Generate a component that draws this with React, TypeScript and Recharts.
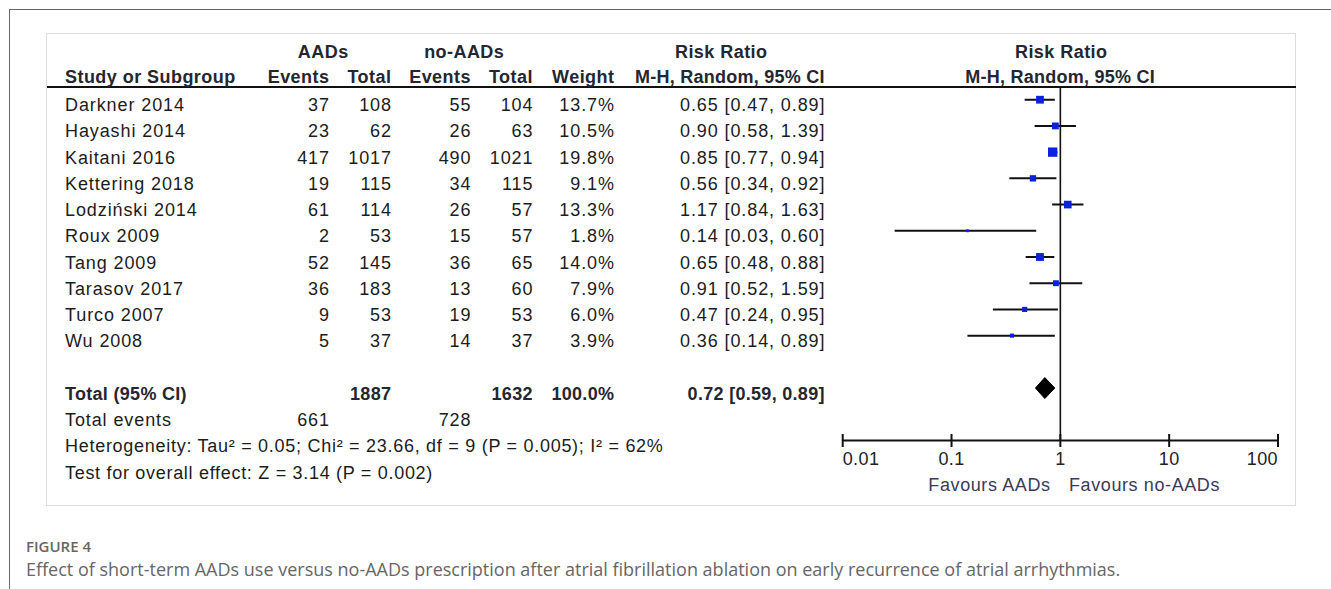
import React from 'react';
import { ScatterChart, Scatter, XAxis, YAxis, ReferenceLine } from 'recharts';

const studies = ['Darkner 2014', 'Hayashi 2014', 'Kaitani 2016', 'Kettering 2018', 'Lodziński 2014', 'Roux 2009', 'Tang 2009', 'Tarasov 2017', 'Turco 2007', 'Wu 2008'];
const aadEvents = [37, 23, 417, 19, 61, 2, 52, 36, 9, 5];
const aadTotal = [108, 62, 1017, 115, 114, 53, 145, 183, 53, 37];
const noEvents = [55, 26, 490, 34, 26, 15, 36, 13, 19, 14];
const noTotal = [104, 63, 1021, 115, 57, 57, 65, 60, 53, 37];
const weights = [13.7, 10.5, 19.8, 9.1, 13.3, 1.8, 14.0, 7.9, 6.0, 3.9];
const riskRatio = [0.65, 0.9, 0.85, 0.56, 1.17, 0.14, 0.65, 0.91, 0.47, 0.36];
const ciLow = [0.47, 0.58, 0.77, 0.34, 0.84, 0.03, 0.48, 0.52, 0.24, 0.14];
const ciHigh = [0.89, 1.39, 0.94, 0.92, 1.63, 0.6, 0.88, 1.59, 0.95, 0.89];
const pooledEst = 0.72;
const pooledLow = 0.59;
const pooledHigh = 0.89;
const totalAad = 1887;
const totalNo = 1632;
const totalWeight = '100.0%';
const eventsAad = 661;
const eventsNo = 728;
const xTicks = [0.01, 0.1, 1, 10, 100];
const xTickLabels = ['0.01', '0.1', '1', '10', '100'];
const heterogeneity = 'Heterogeneity: Tau² = 0.05; Chi² = 23.66, df = 9 (P = 0.005); I² = 62%';
const overall = 'Test for overall effect: Z = 3.14 (P = 0.002)';
const favours = ['Favours AADs', 'Favours no-AADs'];

const pooledRow = studies.length + 1;

const squareData = studies.map((s, i) => ({ x: riskRatio[i], y: i, w: weights[i] }));
const diamondData = [
  { x: pooledLow, y: pooledRow },
  { x: pooledEst, y: pooledRow - 0.4 },
  { x: pooledHigh, y: pooledRow },
  { x: pooledEst, y: pooledRow + 0.4 },
  { x: pooledLow, y: pooledRow },
];

const FONT = '"Liberation Sans", Arial, sans-serif';
const ROW0 = 111;
const PITCH = 26.25;

const fmt2 = (v: number) => v.toFixed(2);
const ciText = (e: number, l: number, h: number) => `${fmt2(e)} [${fmt2(l)}, ${fmt2(h)}]`;

const None = () => <g />;

const Square = (props: any) => {
  const { cx, cy, payload } = props;
  const s = 2.1 * Math.sqrt(payload.w);
  return <rect x={cx - s / 2} y={cy - s / 2} width={s} height={s} fill="#0a22e0" />;
};

const DiamondLine = (props: any) => {
  const pts = props.points || [];
  if (!pts.length) return <g />;
  const d = pts.map((p: any, i: number) => `${i ? 'L' : 'M'}${p.x},${p.y}`).join(' ') + ' Z';
  return <path d={d} fill="#000" stroke="#000" strokeWidth={1} />;
};

const AxisTick = (props: any) => {
  const { x, y, payload } = props;
  const idx = xTicks.indexOf(payload.value);
  const anchor = idx === 0 ? 'start' : idx === xTicks.length - 1 ? 'end' : 'middle';
  return (
    <g>
      <line x1={x} x2={x} y1={y - 6.5} y2={y + 6.5} stroke="#111" strokeWidth={2} />
      <text x={x} y={y + 24.5} textAnchor={anchor} fontFamily={FONT} fontSize={18} fill="#222" letterSpacing={0.4}>
        {xTickLabels[idx]}
      </text>
    </g>
  );
};

type TP = { x: number; y: number; a?: 'start' | 'middle' | 'end'; b?: boolean; c?: string; ls?: number; children: React.ReactNode };
const T = ({ x, y, a = 'start', b = false, c, ls, children }: TP) => {
  const sp = ls !== undefined ? ls : b ? 0.45 : 0.9;
  const dx = a === 'end' ? sp : a === 'middle' ? sp / 2 : 0;
  return (
    <text x={x + dx} y={y} textAnchor={a} fontFamily={FONT} fontSize={18} fontWeight={b ? 700 : 400} fill={c || (b ? '#262630' : '#1c1c1c')} letterSpacing={sp}>
      {children}
    </text>
  );
};

const COL = { name: 65, ev1: 329, tot1: 391, ev2: 470.5, tot2: 532.5, wt: 614, ci: 824.5 };

export default function App() {
  const W = 1331;
  const H = 589;
  const plotTop = 86.6;
  const plotBottom = 440.5;
  const xAxisH = 30;
  return (
    <div style={{ position: 'absolute', left: 0, top: 0, width: W, height: H, background: '#fff', overflow: 'hidden' }}>
      <div style={{ position: 'absolute', left: 9, top: 9, width: W - 9, height: H - 9, borderLeft: '1px solid #666', borderTop: '1px solid #666', boxSizing: 'border-box' }} />
      <div style={{ position: 'absolute', left: 46, top: 33, width: 1250, height: 473, border: '1px solid #dcdcdc', boxSizing: 'border-box', background: '#fff' }} />
      <div style={{ position: 'absolute', left: 0, top: 0 }}>
        <ScatterChart width={W} height={H} margin={{ top: plotTop, right: W - 1278, bottom: H - plotBottom - xAxisH, left: 842.7 }}>
          <XAxis
            type="number"
            dataKey="x"
            scale="log"
            domain={[0.01, 100]}
            ticks={xTicks}
            allowDataOverflow
            height={xAxisH}
            axisLine={{ stroke: '#111', strokeWidth: 2 }}
            tickLine={false}
            tickSize={0}
            tickMargin={0}
            tick={<AxisTick />}
            interval={0}
          />
          <YAxis type="number" dataKey="y" domain={[-0.5, 13]} reversed hide allowDataOverflow />
          <ReferenceLine x={1} stroke="#111" strokeWidth={1.6} />
          {studies.map((s, i) => (
            <Scatter
              key={s}
              data={[{ x: ciLow[i], y: i }, { x: ciHigh[i], y: i }]}
              line={{ stroke: '#111', strokeWidth: 2 }}
              shape={<None />}
              isAnimationActive={false}
            />
          ))}
          <Scatter data={squareData} shape={<Square />} isAnimationActive={false} />
          <Scatter data={diamondData} line={<DiamondLine />} shape={<None />} isAnimationActive={false} />
        </ScatterChart>
      </div>
      <svg width={W} height={H} style={{ position: 'absolute', left: 0, top: 0, pointerEvents: 'none' }}>
        <line x1={47} x2={1296} y1={87} y2={87} stroke="#111" strokeWidth={2} />
        <T x={323} y={58} a="middle" b>AADs</T>
        <T x={464} y={58} a="middle" b>no-AADs</T>
        <T x={721} y={58} a="middle" b>Risk Ratio</T>
        <T x={1061} y={58} a="middle" b>Risk Ratio</T>
        <T x={COL.name} y={83} b>Study or Subgroup</T>
        <T x={COL.ev1} y={83} a="end" b>Events</T>
        <T x={COL.tot1} y={83} a="end" b>Total</T>
        <T x={COL.ev2} y={83} a="end" b>Events</T>
        <T x={COL.tot2} y={83} a="end" b>Total</T>
        <T x={COL.wt} y={83} a="end" b>Weight</T>
        <T x={COL.ci} y={83} a="end" b ls={0.25}>M-H, Random, 95% CI</T>
        <T x={1060} y={83} a="middle" b ls={0.25}>M-H, Random, 95% CI</T>
        {studies.map((s, i) => {
          const y = ROW0 + PITCH * i;
          return (
            <g key={s}>
              <T x={COL.name} y={y}>{s}</T>
              <T x={COL.ev1} y={y} a="end">{aadEvents[i]}</T>
              <T x={COL.tot1} y={y} a="end">{aadTotal[i]}</T>
              <T x={COL.ev2} y={y} a="end">{noEvents[i]}</T>
              <T x={COL.tot2} y={y} a="end">{noTotal[i]}</T>
              <T x={COL.wt} y={y} a="end">{weights[i].toFixed(1) + '%'}</T>
              <T x={COL.ci} y={y} a="end">{ciText(riskRatio[i], ciLow[i], ciHigh[i])}</T>
            </g>
          );
        })}
        <T x={COL.name} y={ROW0 + PITCH * 11} b ls={0.3}>Total (95% CI)</T>
        <T x={COL.tot1} y={ROW0 + PITCH * 11} a="end" b ls={0.3}>{totalAad}</T>
        <T x={COL.tot2} y={ROW0 + PITCH * 11} a="end" b ls={0.3}>{totalNo}</T>
        <T x={COL.wt} y={ROW0 + PITCH * 11} a="end" b ls={0.3}>{totalWeight}</T>
        <T x={COL.ci} y={ROW0 + PITCH * 11} a="end" b ls={0.3}>{ciText(pooledEst, pooledLow, pooledHigh)}</T>
        <T x={COL.name} y={ROW0 + PITCH * 12}>Total events</T>
        <T x={COL.ev1} y={ROW0 + PITCH * 12} a="end">{eventsAad}</T>
        <T x={COL.ev2} y={ROW0 + PITCH * 12} a="end">{eventsNo}</T>
        <T x={COL.name} y={ROW0 + PITCH * 13} ls={0.72}>{heterogeneity}</T>
        <T x={COL.name} y={ROW0 + PITCH * 14} ls={0.7}>{overall}</T>
        <T x={1050} y={490.5} a="end" c="#3a3a5a" ls={0.6}>{favours[0]}</T>
        <T x={1069} y={490.5} c="#3a3a5a" ls={0.6}>{favours[1]}</T>
        <text x={26} y={552} fontFamily='"Open Sans", sans-serif' fontSize={15} fontWeight={600} fill="#666">FIGURE 4</text>
        <text x={26} y={576} fontFamily='"Open Sans", sans-serif' fontSize={18} fill="#666">
          Effect of short-term AADs use versus no-AADs prescription after atrial fibrillation ablation on early recurrence of atrial arrhythmias.
        </text>
      </svg>
    </div>
  );
}
